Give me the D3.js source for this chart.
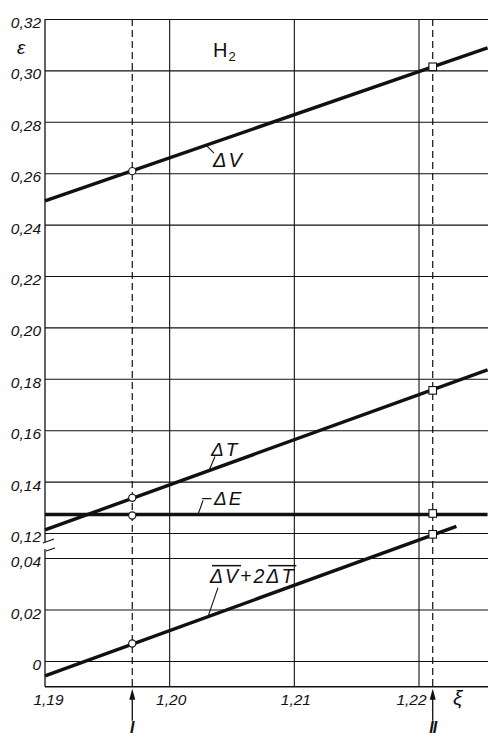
<!DOCTYPE html>
<html><head><meta charset="utf-8">
<script src="https://cdn.jsdelivr.net/npm/d3@7"></script>
<style>
body{margin:0;background:#fff}
svg{display:block}
text{font-family:"Liberation Sans",Arial,sans-serif;fill:#111}
</style></head>
<body><svg id="c" width="488" height="739"></svg>
<script>
// ---------- data ----------
const xTicks = [1.19, 1.20, 1.21, 1.22];
const xTickLabels = ["1,19", "1,20", "1,21", "1,22"];
const xGrid = [1.20, 1.21, 1.22];
const yUpperTicks = [0.12, 0.14, 0.16, 0.18, 0.20, 0.22, 0.24, 0.26, 0.28, 0.30, 0.32];
const yUpperTickLabels = ["0,12","0,14","0,16","0,18","0,20","0,22","0,24","0,26","0,28","0,30","0,32"];
const yLowerTicks = [0, 0.02, 0.04];
const yLowerTickLabels = ["0", "0,02", "0,04"];
const markXi = [1.1970, 1.2211];          // positions I and II
const markNames = ["I", "II"];
const seriesDV  = [[1.19, 0.2492], [1.2255, 0.3088]];
const seriesDT  = [[1.19, 0.1212], [1.2255, 0.1835]];
const seriesDE  = [[1.19, 0.1272], [1.2255, 0.1272]];
const seriesSum = [[1.19, -0.0058], [1.2230, 0.0523]];  // lower (broken) scale
const pointsDV  = [0.2608, 0.3014];
const pointsDT  = [0.1337, 0.1755];
const pointsDE  = [0.1268, 0.1276];
const pointsSum = [0.0068, 0.0492];

// ---------- scales ----------
const W = 488, L = 45;
const x = d3.scaleLinear().domain([1.19, 1.22]).range([45, 419]);
const yUp = d3.scaleLinear().domain([0.12, 0.32]).range([533, 19]);
const yLo = d3.scaleLinear().domain([0, 0.04]).range([661, 558]);
const topY = yUp(0.32), botY = yLo(-0.01);
const svg = d3.select("#c");
const ink = "#111";

// ---------- grid ----------
const gUp = svg.append("g").attr("transform", `translate(${L},0)`)
  .call(d3.axisLeft(yUp).tickValues(yUpperTicks).tickSize(-(W - L)).tickPadding(4)
    .tickFormat((d, i) => yUpperTickLabels[i]));
const gLo = svg.append("g").attr("transform", `translate(${L},0)`)
  .call(d3.axisLeft(yLo).tickValues(yLowerTicks).tickSize(-(W - L)).tickPadding(4)
    .tickFormat((d, i) => yLowerTickLabels[i]));
[gUp, gLo].forEach(g => {
  g.select(".domain").remove();
  g.selectAll("line").attr("stroke", ink).attr("stroke-width", 1.1);
  g.selectAll("text").attr("font-size", 15.5).attr("font-style", "italic")
    .attr("dy", "0.55em").attr("fill", ink).attr("font-family", '"Liberation Sans",Arial,sans-serif');
});
// vertical grid
svg.append("g").selectAll("line").data(xGrid).join("line")
  .attr("x1", d => x(d)).attr("x2", d => x(d)).attr("y1", topY).attr("y2", botY)
  .attr("stroke", ink).attr("stroke-width", 1.1);
// bottom border
svg.append("line").attr("x1", L).attr("x2", W).attr("y1", botY).attr("y2", botY)
  .attr("stroke", ink).attr("stroke-width", 1.3);
// broken left axis
svg.append("line").attr("x1", L).attr("x2", L).attr("y1", topY).attr("y2", yUp(0.1165))
  .attr("stroke", ink).attr("stroke-width", 1.3);
svg.append("line").attr("x1", L).attr("x2", L).attr("y1", yLo(0.0435)).attr("y2", botY)
  .attr("stroke", ink).attr("stroke-width", 1.3);
// break marks
svg.append("line").attr("x1", L - 2).attr("y1", yUp(0.1165) + 1).attr("x2", L + 9).attr("y2", yUp(0.1165) - 3)
  .attr("stroke", ink).attr("stroke-width", 1.2);
svg.append("line").attr("x1", L + 1).attr("y1", yLo(0.0435) + 2).attr("x2", L + 10).attr("y2", yLo(0.0435) - 1)
  .attr("stroke", ink).attr("stroke-width", 1.2);

// x tick labels
const gx = svg.append("g").attr("transform", `translate(0,${botY})`)
  .call(d3.axisBottom(x).tickValues(xTicks).tickSize(0).tickPadding(7)
    .tickFormat((d, i) => xTickLabels[i]));
gx.select(".domain").remove();
gx.selectAll("text").attr("font-size", 15.5).attr("font-style", "italic").attr("fill", ink)
  .attr("font-family", '"Liberation Sans",Arial,sans-serif')
  .attr("dx", (d, i) => i === 0 ? 3 : (i === 3 ? -8 : 1));

// dashed verticals I / II with arrows
markXi.forEach((m, i) => {
  const px = x(m);
  svg.append("line").attr("x1", px).attr("x2", px).attr("y1", topY).attr("y2", botY)
    .attr("stroke", ink).attr("stroke-width", 1.2).attr("stroke-dasharray", "7,4");
  svg.append("line").attr("x1", px).attr("x2", px).attr("y1", botY + 10).attr("y2", botY + 34)
    .attr("stroke", ink).attr("stroke-width", 1.3);
  svg.append("path").attr("d", `M${px},${botY + 2}L${px - 3},${botY + 13}L${px + 3},${botY + 13}Z`).attr("fill", ink);
  svg.append("text").attr("x", px).attr("y", botY + 46).attr("text-anchor", "middle")
    .attr("font-family", '"Liberation Serif",serif').attr("font-weight", "bold").attr("font-style", "italic")
    .attr("font-size", 16).attr("letter-spacing", i ? -1 : 0).text(markNames[i]);
});

// ---------- curves ----------
const lineUp = d3.line().x(d => x(d[0])).y(d => yUp(d[1]));
const lineLo = d3.line().x(d => x(d[0])).y(d => yLo(d[1]));
[[seriesDV, lineUp], [seriesDT, lineUp], [seriesDE, lineUp], [seriesSum, lineLo]].forEach(([s, ln]) => {
  svg.append("path").attr("d", ln(s)).attr("fill", "none").attr("stroke", ink).attr("stroke-width", 3.4);
});

// markers
const markerSets = [[pointsDV, yUp], [pointsDT, yUp], [pointsDE, yUp], [pointsSum, yLo]];
markerSets.forEach(([p, ys]) => {
  svg.append("circle").attr("cx", x(markXi[0])).attr("cy", ys(p[0])).attr("r", 3.6)
    .attr("fill", "#fff").attr("stroke", ink).attr("stroke-width", 1.1);
  svg.append("rect").attr("x", x(markXi[1]) - 3.8).attr("y", ys(p[1]) - 3.8).attr("width", 7.6).attr("height", 7.6)
    .attr("fill", "#fff").attr("stroke", ink).attr("stroke-width", 1.1);
});

// ---------- curve labels ----------
function valAt(s, xi) { return s[0][1] + (s[1][1] - s[0][1]) * (xi - s[0][0]) / (s[1][0] - s[0][0]); }
function label(s, ys, xi, lead, txt, tpos, fs) {
  const px = x(xi), py = ys(valAt(s, xi));
  svg.append("line").attr("x1", px).attr("y1", py).attr("x2", px + lead[0]).attr("y2", py + lead[1])
    .attr("stroke", ink).attr("stroke-width", 1.1);
  return svg.append("text").attr("x", px + tpos[0]).attr("y", py + tpos[1])
    .attr("font-size", fs).attr("font-style", "italic").attr("letter-spacing", 2).text(txt);
}
label(seriesDV, yUp, x.invert(206), [8, 8], "ΔV", [7, 22], 20);
label(seriesDT, yUp, x.invert(209), [6, -14], "ΔT", [2, -15], 19);
label(seriesDE, yUp, x.invert(198), [5, -14], "−ΔE", [3, -9], 19);
const sumT = label(seriesSum, yLo, x.invert(208), [10, -29], "ΔV+2ΔT", [2, -34], 19.5);
// overlines above ΔV and ΔT
const tn = sumT.node();
[[0, 1], [4, 5]].forEach(([a, b]) => {
  const s = tn.getStartPositionOfChar(a), e = tn.getEndPositionOfChar(b);
  const yy = +sumT.attr("y") - 17;
  svg.append("line").attr("x1", s.x + 2).attr("x2", e.x + 1).attr("y1", yy).attr("y2", yy)
    .attr("stroke", ink).attr("stroke-width", 1.5);
});

// H2, epsilon, xi
const h = svg.append("text").attr("x", 213).attr("y", 57).attr("font-size", 20);
h.append("tspan").text("H");
h.append("tspan").attr("font-size", 13).attr("dy", 4).attr("dx", 1).text("2");
svg.append("text").attr("x", 17).attr("y", 54).attr("font-size", 19).attr("font-style", "italic")
  .attr("font-family", '"DejaVu Serif",serif').text("ε");
svg.append("text").attr("x", 453).attr("y", 705).attr("font-size", 21).attr("font-style", "italic")
  .attr("font-family", '"DejaVu Serif",serif').text("ξ");
</script></body></html>
